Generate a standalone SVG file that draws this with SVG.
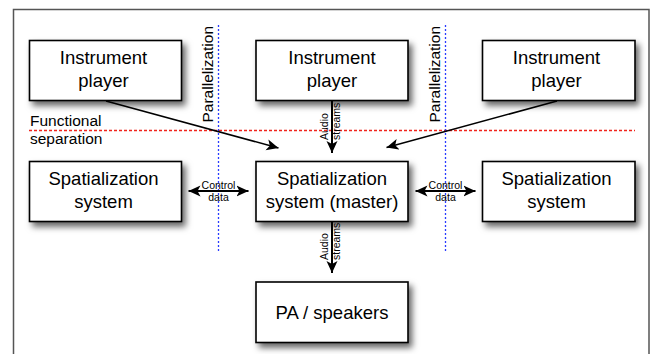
<svg xmlns="http://www.w3.org/2000/svg" width="651" height="354" viewBox="0 0 651 354">
  <defs>
    <filter id="sh" x="-10%" y="-10%" width="130%" height="140%">
      <feDropShadow dx="3.5" dy="4.5" stdDeviation="3" flood-color="#000" flood-opacity="0.6"/>
    </filter>
    <marker id="ah" viewBox="0 0 12 12" refX="12" refY="6" markerWidth="12" markerHeight="12" markerUnits="userSpaceOnUse" orient="auto-start-reverse">
      <path d="M0,0.5 L12,6 L0,11.5 L3,6 Z" fill="#000"/>
    </marker>
  </defs>
  <style>
    .box { fill: #fff; stroke: #000; stroke-width: 1.6; filter: url(#sh); }
    .bt { font-family: "Liberation Sans", Arial, sans-serif; font-size: 18.5px; fill: #000; text-anchor: middle; }
    .lt { font-family: "Liberation Sans", Arial, sans-serif; font-size: 15.5px; fill: #000; }
    .st { font-family: "Liberation Sans", Arial, sans-serif; font-size: 10.5px; fill: #000; }
    .con { stroke: #000; stroke-width: 1.5; fill: none; }
    .thick { stroke-width: 2; }
    .red { stroke: #f0241c; stroke-width: 1.3; stroke-dasharray: 3 2; fill: none; }
    .blue { stroke: #2a3cff; stroke-width: 1.3; stroke-dasharray: 2 2; fill: none; }
  </style>
  <rect x="0" y="0" width="651" height="354" fill="#fff"/>
  <rect x="13.5" y="9.5" width="635.5" height="360" fill="#fff" stroke="#555" stroke-width="1.5"/>

  <g id="separators">
    <line class="red" x1="29" y1="130.5" x2="635" y2="130.5"/>
    <line class="blue" x1="218.5" y1="25" x2="218.5" y2="252"/>
    <line class="blue" x1="445.5" y1="25" x2="445.5" y2="252"/>
    <text class="lt" transform="translate(212.5,122.5) rotate(-90)">Parallelization</text>
    <text class="lt" transform="translate(439.5,122.5) rotate(-90)">Parallelization</text>
    <text class="lt" x="30" y="126">Functional</text>
    <text class="lt" x="30" y="143.5">separation</text>
  </g>

  <g id="player-left">
    <rect class="box" x="29.5" y="40.5" width="152" height="60"/>
    <text class="bt" x="103.5" y="64">Instrument</text>
    <text class="bt" x="103.5" y="87">player</text>
  </g>
  <g id="player-middle">
    <rect class="box" x="256" y="40.5" width="152" height="60"/>
    <text class="bt" x="332" y="64">Instrument</text>
    <text class="bt" x="332" y="87">player</text>
  </g>
  <g id="player-right">
    <rect class="box" x="482.5" y="40.5" width="152.5" height="60"/>
    <text class="bt" x="556.5" y="64">Instrument</text>
    <text class="bt" x="556.5" y="87">player</text>
  </g>
  <g id="spat-left">
    <rect class="box" x="29.5" y="161.5" width="152" height="60"/>
    <text class="bt" x="103.5" y="185">Spatialization</text>
    <text class="bt" x="103.5" y="208">system</text>
  </g>
  <g id="spat-master">
    <rect class="box" x="256" y="161.5" width="152" height="60"/>
    <text class="bt" x="332" y="185">Spatialization</text>
    <text class="bt" x="332" y="208">system (master)</text>
  </g>
  <g id="spat-right">
    <rect class="box" x="482.5" y="161.5" width="152.5" height="60"/>
    <text class="bt" x="556.5" y="185">Spatialization</text>
    <text class="bt" x="556.5" y="208">system</text>
  </g>
  <g id="pa">
    <rect class="box" x="256" y="282" width="152" height="60.5"/>
    <text class="bt" x="332" y="318.5">PA / speakers</text>
  </g>

  <g id="connectors">
    <line class="con" x1="106" y1="101" x2="278.5" y2="148" marker-end="url(#ah)"/>
    <line class="con" x1="557" y1="101" x2="386.5" y2="147.5" marker-end="url(#ah)"/>
    <line class="con thick" x1="332" y1="101" x2="332" y2="153" marker-end="url(#ah)"/>
    <line class="con thick" x1="332" y1="222" x2="332" y2="273" marker-end="url(#ah)"/>
    <line class="con thick" x1="188.5" y1="191" x2="248.5" y2="191" marker-start="url(#ah)" marker-end="url(#ah)"/>
    <line class="con thick" x1="415.5" y1="191" x2="475.5" y2="191" marker-start="url(#ah)" marker-end="url(#ah)"/>
    <text class="st" transform="translate(327.7,140) rotate(-90)"><tspan x="0" y="0">Audio</tspan><tspan x="0" y="12.3">streams</tspan></text>
    <text class="st" transform="translate(327.7,260) rotate(-90)"><tspan x="0" y="0">Audio</tspan><tspan x="0" y="12.3">streams</tspan></text>
    <text class="st" text-anchor="middle"><tspan x="218.5" y="188.5">Control</tspan><tspan x="218.5" y="201">data</tspan></text>
    <text class="st" text-anchor="middle"><tspan x="445.5" y="188.5">Control</tspan><tspan x="445.5" y="201">data</tspan></text>
  </g>
</svg>
